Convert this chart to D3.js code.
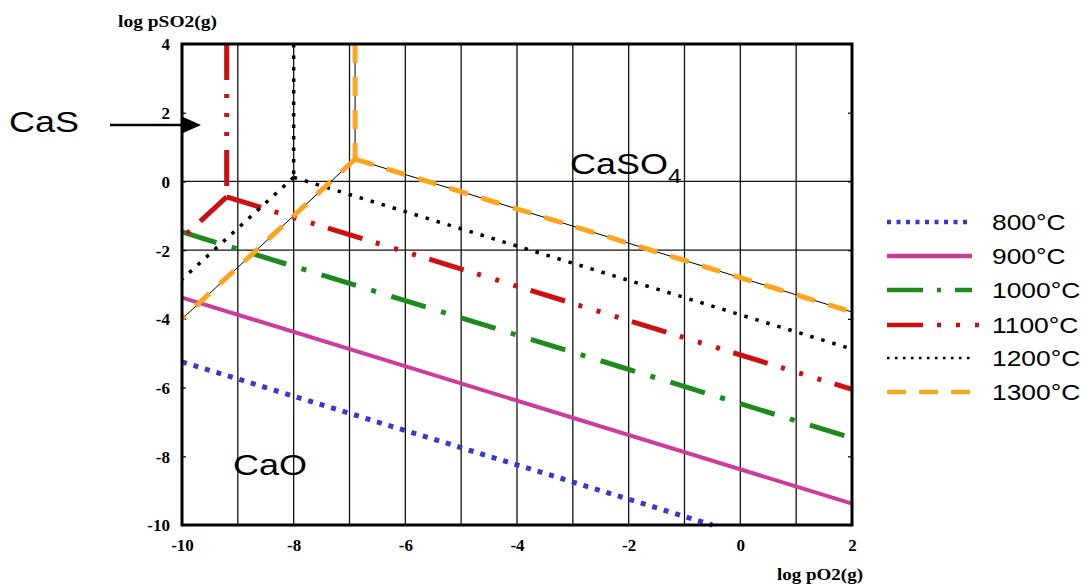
<!DOCTYPE html>
<html>
<head>
<meta charset="utf-8">
<script src="https://cdn.jsdelivr.net/npm/d3@7"></script>
<style>
  body { margin: 0; background: #fff; }
  svg { display: block; }
  .tick text { font-family: "Liberation Serif", "Times New Roman", serif; font-weight: bold; font-size: 17px; }
</style>
</head>
<body>
<div id="chart"></div>
<script>
// temperatures and their styles in the legend order
var temps = ["800°C", "900°C", "1000°C", "1100°C", "1200°C", "1300°C"];
var colors = ["#3838cc", "#cc3c9c", "#1e8a1e", "#cc1010", "#000000", "#ffa41c"];
var dashes = ["5,7", null, "36,16,5,16", "36,14,4,15,4,15,4,14", "3.5,8", "19,14"];
var legDashes = ["4,5.5", null, "36,14,4,14", "36,14,4,15,4,15,4,14", "2.5,5.5", "19,13"];
var widths = [5, 4, 5, 5, 3.5, 5];

// CaO / CaSO4 boundary (falling): [logpO2, logpSO2]
var caoCaso4 = [
  [[-10, -5.25], [-0.5, -10]],
  [[-10, -3.38], [2, -9.38]],
  [[-10, -1.47], [2, -7.47]],
  [[-9.2, -0.45], [2, -6.05]],
  [[-8, 0.12], [2, -4.88]],
  [[-6.9, 0.65], [2, -3.8]]
];
// CaS / CaO boundary (rising), drawn from the triple point down
var casCao = [
  null, null, null,
  [[-9.2, -0.45], [-10, -1.65]],
  [[-8, 0.12], [-10, -2.85]],
  [[-6.9, 0.65], [-10, -4.0]]
];
// CaS / CaSO4 boundary (vertical)
var casCaso4 = [
  null, null, null,
  [[-9.2, 4], [-9.2, -0.45]],
  [[-8, 4], [-8, 0.12]],
  [[-6.9, 4], [-6.9, 0.65]]
];

var xTicks = [-10, -8, -6, -4, -2, 0, 2];
var yTicks = [4, 2, 0, -2, -4, -6, -8, -10];
var xGrid = [-9, -8, -7, -6, -5, -4, -3, -2, -1, 0, 1];
var yGrid = [0, -2];

var W = 1086, H = 584;
var pLeft = 182, pRight = 852, pTop = 44, pBottom = 525;

var svg = d3.select("#chart").append("svg")
  .attr("width", W).attr("height", H);

var x = d3.scaleLinear().domain([-10, 2]).range([pLeft, pRight]);
var y = d3.scaleLinear().domain([-10, 4]).range([pBottom, pTop]);

var line = d3.line()
  .x(function(d) { return x(d[0]); })
  .y(function(d) { return y(d[1]); });

// grid
svg.append("g").selectAll("line").data(xGrid).enter().append("line")
  .attr("x1", function(d) { return x(d); }).attr("x2", function(d) { return x(d); })
  .attr("y1", pTop).attr("y2", pBottom)
  .attr("stroke", "#111").attr("stroke-width", 1.3);
svg.append("g").selectAll("line").data(yGrid).enter().append("line")
  .attr("y1", function(d) { return y(d); }).attr("y2", function(d) { return y(d); })
  .attr("x1", pLeft).attr("x2", pRight)
  .attr("stroke", "#111").attr("stroke-width", 1.3);

// axes (plain hyphen minus like the original)
var fmt = function(d) { return String(d); };
var yAxis = d3.axisLeft(y).tickValues(yTicks).tickSizeInner(-4).tickSizeOuter(0).tickPadding(12).tickFormat(fmt);
var yAxisR = d3.axisRight(y).tickValues(yTicks).tickSizeInner(-4).tickSizeOuter(0).tickFormat("");
var xAxis = d3.axisBottom(x).tickValues(xTicks).tickSize(0).tickPadding(14).tickFormat(fmt);

var gy = svg.append("g").attr("transform", "translate(" + pLeft + ",0)").call(yAxis);
svg.append("g").attr("transform", "translate(" + pRight + ",0)").call(yAxisR);
var gx = svg.append("g").attr("transform", "translate(0," + pBottom + ")").call(xAxis);
svg.selectAll(".domain").remove();
svg.selectAll(".tick line").attr("stroke", "#000").attr("stroke-width", 1.2);
svg.selectAll(".tick text").attr("fill", "#000");
gy.selectAll(".tick text").attr("dy", "0.35em");

// thin black trace under the 1300 lines
[caoCaso4[5], casCao[5], casCaso4[5]].forEach(function(seg) {
  svg.append("path").attr("d", line(seg))
    .attr("fill", "none").attr("stroke", "#000").attr("stroke-width", 1);
});

// phase boundaries
temps.forEach(function(t, i) {
  [casCaso4[i], casCao[i], caoCaso4[i]].forEach(function(seg) {
    if (!seg) return;
    svg.append("path").attr("d", line(seg))
      .attr("fill", "none")
      .attr("stroke", colors[i])
      .attr("stroke-width", widths[i])
      .attr("stroke-dasharray", dashes[i]);
  });
});

// frame
svg.append("rect")
  .attr("x", pLeft).attr("y", pTop)
  .attr("width", pRight - pLeft).attr("height", pBottom - pTop)
  .attr("fill", "none").attr("stroke", "#000").attr("stroke-width", 3);

// axis titles
svg.append("text").attr("x", 118).attr("y", 27)
  .attr("textLength", 99).attr("lengthAdjust", "spacingAndGlyphs")
  .style("font-family", "Liberation Serif, Times New Roman, serif")
  .style("font-weight", "bold").style("font-size", "16px")
  .text("log pSO2(g)");
svg.append("text").attr("x", 777).attr("y", 580)
  .attr("textLength", 86).attr("lengthAdjust", "spacingAndGlyphs")
  .style("font-family", "Liberation Serif, Times New Roman, serif")
  .style("font-weight", "bold").style("font-size", "16px")
  .text("log pO2(g)");

// phase labels (picture is stretched sideways)
function label(px, py, str, size) {
  return svg.append("text")
    .attr("transform", "translate(" + px + "," + py + ") scale(1.2,1)")
    .style("font-family", "Liberation Sans, Arial, sans-serif")
    .style("font-size", size + "px")
    .text(str);
}
label(9, 132, "CaS", 30);
label(233, 475, "CaO", 30);
var caso = label(570, 174, "CaSO", 30);
caso.append("tspan").attr("dy", 9).style("font-size", "20px").text("4");

// arrow pointing to CaS field
svg.append("line").attr("x1", 110).attr("x2", 184).attr("y1", 125).attr("y2", 125)
  .attr("stroke", "#000").attr("stroke-width", 2.5);
svg.append("path").attr("d", "M183,117 L201,125 L183,133 Z").attr("fill", "#000");

// legend
var legY = [222, 256, 290, 325, 358, 392];
temps.forEach(function(t, i) {
  svg.append("line")
    .attr("x1", 887).attr("x2", i === 3 ? 981 : 972)
    .attr("y1", legY[i]).attr("y2", legY[i])
    .attr("stroke", colors[i])
    .attr("stroke-width", i === 4 ? 2.5 : 4.5)
    .attr("stroke-dasharray", legDashes[i]);
  label(992, legY[i] + 8, t, 22);
});
</script>
</body>
</html>
